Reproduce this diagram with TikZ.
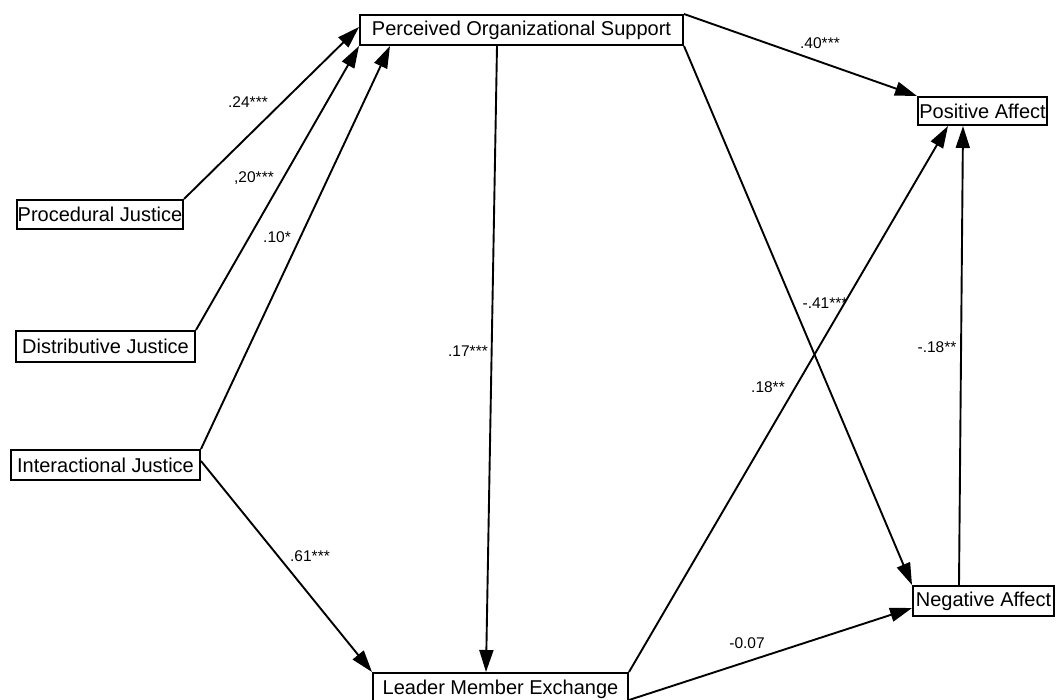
\documentclass[tikz,border=0pt]{standalone}
\usepackage{fontspec}
\setmainfont{Liberation Sans}
\usetikzlibrary{arrows.meta}

\begin{document}
\begin{tikzpicture}[x=1pt, y=-1pt,
	var/.style={draw, line width=2pt, inner sep=0pt, minimum height=30pt, font=\fontsize{20}{24}\selectfont},
	path/.style={line width=1.9pt, -{Triangle[length=22pt, width=14pt]}},
	coef/.style={font=\fontsize{15.5}{18}\selectfont, inner sep=0pt}]
	\useasboundingbox (0,0) rectangle (1058,700);
	% variables
	\node[var, minimum width=323pt] (pos) at (521.5, 30) {Perceived Organizational Support};
	\node[var, minimum width=166pt, minimum height=29pt] (pj) at (100, 214.5) {Procedural Justice};
	\node[var, minimum width=179pt, minimum height=31pt] (dj) at (105.5, 346.5) {Distributive Justice};
	\node[var, minimum width=189pt] (ij) at (105.5, 465) {Interactional Justice};
	\node[var, minimum width=129pt, minimum height=28pt] (pa) at (982.5, 111) {Positive Affect};
	\node[var, minimum width=141pt] (na) at (983.5, 601) {Negative Affect};
	\node[var, minimum width=255pt, minimum height=32pt] (lmx) at (500.5, 689) {Leader Member Exchange};

	% paths
	\draw[path] (pj.north east) -- ([yshift=3pt]pos.west);
	\draw[path] (dj.north east) -- (pos.south west);
	\draw[path] (ij.north east) -- ([xshift=31pt]pos.south west);
	\draw[path] ([yshift=4pt]ij.east) -- (lmx.north west);
	\draw[path] ([xshift=-24.5pt]pos.south) -- ([xshift=-14.5pt]lmx.north);
	\draw[path] (pos.north east) -- (pa.north west);
	\draw[path] (pos.south east) -- (na.north west);
	\draw[path] (lmx.north east) -- ([xshift=-34.5pt]pa.south);
	\draw[path] ([xshift=-24.5pt]na.north) -- ([xshift=-19.5pt]pa.south);
	\draw[path] ([yshift=-11pt]lmx.east) -- ([yshift=-7pt]na.west);

	% coefficients
	\node[coef] (c1) at (248, 102) {.24***};
	\node[coef] (c2) at (254, 178) {,20***};
	\node[coef] (c3) at (277, 237) {.10*};
	\node[coef] (c4) at (468, 351) {.17***};
	\node[coef] (c5) at (820, 43) {.40***};
	\node[coef] (c6) at (825, 303) {-.41***};
	\node[coef] (c7) at (768, 387) {.18**};
	\node[coef] (c8) at (937, 347) {-.18**};
	\node[coef] (c9) at (310, 556) {.61***};
	\node[coef] (c10) at (747, 643) {-0.07};
\end{tikzpicture}
\end{document}
